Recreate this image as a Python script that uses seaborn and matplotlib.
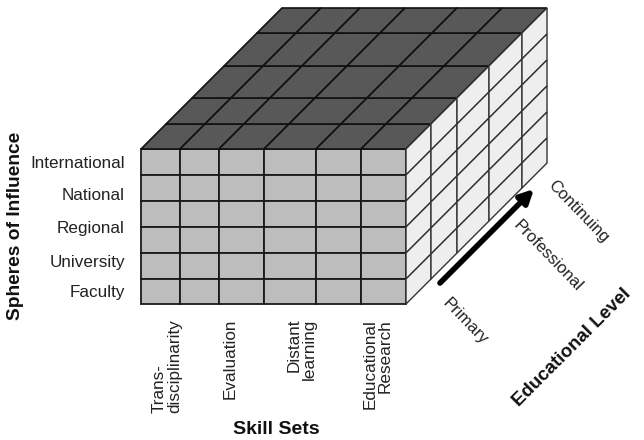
import matplotlib
matplotlib.use("Agg")
import matplotlib.pyplot as plt
import seaborn as sns
from matplotlib.patches import Polygon

# categories on the three axes of the cube
spheres = ["International", "National", "Regional", "University", "Faculty"]
skills = ["Trans-\ndisciplinarity", "Evaluation", "Distant\nlearning", "Educational\nResearch"]
skill_align = ["left", "right", "right", "right"]
levels = ["Primary", "Professional", "Continuing"]

# layout of the block grid, in pixels
col_edges = [141, 180, 219, 264, 316, 361, 406]
row_edges = [149, 175, 201, 227, 253, 279, 304]
depth_edges = [0, 25, 51, 83, 116, 141]

sns.set_theme(style="white")
plt.rcParams['font.family'] = ['Liberation Sans', 'DejaVu Sans']

fig = plt.figure(figsize=(6.44, 4.4), dpi=100)
ax = fig.add_axes([0, 0, 1, 1])
ax.set_xlim(0, 644)
ax.set_ylim(440, 0)
ax.axis("off")

front_col = "#bdbdbd"
top_col = "#585858"
side_col = "#eeeeee"
txt_col = "#222222"

# front face
for i in range(len(col_edges) - 1):
    for j in range(len(row_edges) - 1):
        x0, x1 = col_edges[i], col_edges[i + 1]
        y0, y1 = row_edges[j], row_edges[j + 1]
        ax.add_patch(Polygon([(x0, y0), (x1, y0), (x1, y1), (x0, y1)],
                             fc=front_col, ec="#1a1a1a", lw=1.3))

# top face
ytop = row_edges[0]
for i in range(len(col_edges) - 1):
    for k in range(len(depth_edges) - 1):
        x0, x1 = col_edges[i], col_edges[i + 1]
        d0, d1 = depth_edges[k], depth_edges[k + 1]
        ax.add_patch(Polygon([(x0 + d0, ytop - d0), (x1 + d0, ytop - d0),
                              (x1 + d1, ytop - d1), (x0 + d1, ytop - d1)],
                             fc=top_col, ec="#111111", lw=1.2))

# right face
xr = col_edges[-1]
for j in range(len(row_edges) - 1):
    for k in range(len(depth_edges) - 1):
        y0, y1 = row_edges[j], row_edges[j + 1]
        d0, d1 = depth_edges[k], depth_edges[k + 1]
        ax.add_patch(Polygon([(xr + d0, y0 - d0), (xr + d1, y0 - d1),
                              (xr + d1, y1 - d1), (xr + d0, y1 - d0)],
                             fc=side_col, ec="#333333", lw=1.0))

# sphere labels
sphere_y = [163, 196, 228, 262, 293]
for lab, y in zip(spheres, sphere_y):
    ax.text(125, y, lab, ha="right", va="center", fontsize=12.3, color=txt_col)

# skill labels
skill_x = [167, 230, 302, 378]
for lab, x, al in zip(skills, skill_x, skill_align):
    ax.text(x, 319, lab, ha="center", va="top", rotation=90, fontsize=12.3,
            multialignment=al, color=txt_col, linespacing=1.02)

# educational level labels
level_xy = [(465, 322), (548, 256), (578, 212)]
for lab, (x, y) in zip(levels, level_xy):
    ax.text(x, y, lab, ha="center", va="center", rotation=-46, fontsize=12,
            color=txt_col, rotation_mode="anchor")

ax.annotate("", xy=(536, 187), xytext=(438, 285),
            arrowprops=dict(arrowstyle="-|>", lw=4, color="black",
                            mutation_scale=20))

ax.text(16, 226, "Spheres of Influence", rotation=90, ha="center", va="center",
        fontsize=13.8, fontweight="bold", color="#111111")
ax.text(276, 430, "Skill Sets", ha="center", va="center", fontsize=14,
        fontweight="bold", color="#111111")
# pulled in a little from the right edge so "Level" is not clipped
ax.text(572, 348, "Educational Level", rotation=45, ha="center", va="center",
        fontsize=13.5, fontweight="bold", rotation_mode="anchor", color="#111111")

fig.savefig("out.png", dpi=100)
